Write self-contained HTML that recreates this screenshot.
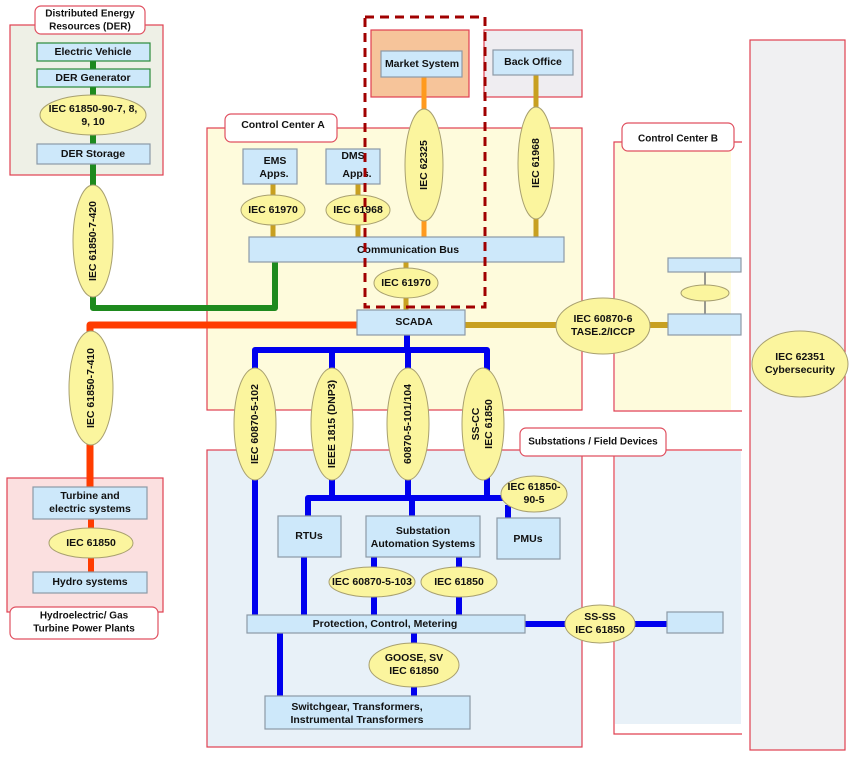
<!DOCTYPE html>
<html><head><meta charset="utf-8"><style>
body{margin:0;background:#fff}
svg text{font-family:"Liberation Sans",Arial,sans-serif;font-weight:bold;font-size:10.5px;fill:#111;text-anchor:middle;dominant-baseline:central}
.b{fill:#cde8fa;stroke:#8c9aa6;stroke-width:1.2}
.e{fill:#fbf59e;stroke:#a8a070;stroke-width:1}
.lb{fill:#fff;stroke:#e05060;stroke-width:1.2}
.rg{stroke:#e04050;stroke-width:1.2}
</style></head><body>
<svg width="853" height="754" viewBox="0 0 853 754" xmlns="http://www.w3.org/2000/svg">
<rect x="10" y="25" width="153" height="150" fill="#eef0e6" class="rg"/>
<rect x="7" y="478" width="156" height="134" fill="#fbe0e0" class="rg"/>
<rect x="207" y="128" width="375" height="282" fill="#fefbdc" class="rg"/>
<rect x="207" y="450" width="375" height="297" fill="#e8f1f8" class="rg"/>
<rect x="371" y="30" width="98" height="67" fill="#f6c49a" class="rg"/>
<rect x="484" y="30" width="98" height="67" fill="#efedf1" class="rg"/>
<path d="M742 142 H614 V411 H742" fill="none" class="rg"/>
<rect x="615" y="143" width="116" height="267" fill="#fefbdc"/>
<path d="M742 450 H614 V734 H742" fill="none" class="rg"/>
<rect x="615" y="451" width="126" height="273" fill="#e8f1f8"/>
<rect x="750" y="40" width="95" height="710" fill="#f0f0f2" class="rg"/>
<rect x="35" y="6" width="110" height="28" rx="6" class="lb"/>
<text x="90" y="14" style="font-size:10px">Distributed Energy</text>
<text x="90" y="27" style="font-size:10px">Resources (DER)</text>
<rect x="225" y="114" width="112" height="28" rx="6" class="lb"/>
<text x="283" y="125">Control Center A</text>
<rect x="622" y="123" width="112" height="28" rx="6" class="lb"/>
<text x="678" y="139" style="font-size:10px">Control Center B</text>
<rect x="520" y="428" width="146" height="28" rx="6" class="lb"/>
<text x="593" y="442" style="font-size:10px">Substations / Field Devices</text>
<rect x="10" y="607" width="148" height="32" rx="6" class="lb"/>
<text x="84" y="616" style="font-size:10px">Hydroelectric/ Gas</text>
<text x="84" y="629" style="font-size:10px">Turbine Power Plants</text>
<g fill="none" stroke-linejoin="round">
<path d="M93 61 V308 H275 V262" stroke="#1e8a1e" stroke-width="6"/>
<path d="M90 487 V325 H357" stroke="#ff3c00" stroke-width="7"/>
<path d="M91 519 V572" stroke="#ff3c00" stroke-width="6"/>
<path d="M424 77 V237" stroke="#ff9a1e" stroke-width="5"/>
<path d="M536 75 V237" stroke="#c8a020" stroke-width="5"/>
<path d="M273 184 V237 M358 184 V237 M406 262 V310" stroke="#c8a020" stroke-width="5"/>
<path d="M465 325 H668" stroke="#c8a020" stroke-width="6"/>
<path d="M705 272 V314" stroke="#777" stroke-width="1.5"/>
<g stroke="#0000ee" stroke-width="6">
<path d="M407 335 V350 M255 615 V350 H487 V400 M332 350 V400 M408 350 V400"/>
<path d="M308 516 V498 H530 M332 470 V498 M408 470 V498 M487 470 V498 M412 498 V516 M508 505 V518"/>
<path d="M304 557 V615 M374 557 V615 M459 557 V615"/>
<path d="M525 624 H668 M280 633 V696 M414 633 V696"/>
</g>
</g>
<rect x="37" y="43" width="113" height="18" class="b" style="stroke:#2a8a3a"/><text x="93" y="52">Electric Vehicle</text>
<rect x="37" y="69" width="113" height="18" class="b" style="stroke:#2a8a3a"/><text x="93" y="78">DER Generator</text>
<rect x="37" y="144" width="113" height="20" class="b"/><text x="93" y="154">DER Storage</text>
<rect x="33" y="487" width="114" height="32" class="b"/><text x="90" y="496">Turbine and</text><text x="90" y="509">electric systems</text>
<rect x="33" y="572" width="114" height="21" class="b"/><text x="90" y="582">Hydro systems</text>
<rect x="381" y="51" width="81" height="26" class="b"/><text x="422" y="64">Market System</text>
<rect x="493" y="50" width="80" height="25" class="b"/><text x="533" y="62">Back Office</text>
<rect x="243" y="149" width="54" height="35" class="b"/><text x="275" y="161">EMS</text><text x="274" y="174">Apps.</text>
<rect x="326" y="149" width="54" height="35" class="b"/><text x="353" y="156">DMS</text><text x="357" y="174">Apps.</text>
<rect x="249" y="237" width="315" height="25" class="b"/><text x="408" y="250">Communication Bus</text>
<rect x="357" y="310" width="108" height="25" class="b"/><text x="414" y="322">SCADA</text>
<rect x="668" y="258" width="73" height="14" class="b"/>
<rect x="668" y="314" width="73" height="21" class="b"/>
<rect x="278" y="516" width="63" height="41" class="b"/><text x="309" y="536">RTUs</text>
<rect x="366" y="516" width="114" height="41" class="b"/><text x="423" y="531">Substation</text><text x="423" y="544">Automation Systems</text>
<rect x="497" y="518" width="63" height="41" class="b"/><text x="528" y="539">PMUs</text>
<rect x="247" y="615" width="278" height="18" class="b"/><text x="385" y="624">Protection, Control, Metering</text>
<rect x="667" y="612" width="56" height="21" class="b"/>
<rect x="265" y="696" width="205" height="33" class="b"/><text x="357" y="707">Switchgear, Transformers,</text><text x="357" y="720">Instrumental Transformers</text>
<ellipse cx="93" cy="115" rx="53" ry="20" class="e"/><text x="93" y="109">IEC 61850-90-7, 8,</text><text x="93" y="122">9, 10</text>
<ellipse cx="93" cy="241" rx="20" ry="56" class="e"/><text transform="translate(93,241) rotate(-90)">IEC 61850-7-420</text>
<ellipse cx="91" cy="388" rx="22" ry="57" class="e"/><text transform="translate(91,388) rotate(-90)">IEC 61850-7-410</text>
<ellipse cx="91" cy="543" rx="42" ry="15" class="e"/><text x="91" y="543">IEC 61850</text>
<ellipse cx="273" cy="210" rx="32" ry="15" class="e"/><text x="273" y="210">IEC 61970</text>
<ellipse cx="358" cy="210" rx="32" ry="15" class="e"/><text x="358" y="210">IEC 61968</text>
<ellipse cx="406" cy="283" rx="32" ry="15" class="e"/><text x="406" y="283">IEC 61970</text>
<ellipse cx="424" cy="165" rx="19" ry="56" class="e"/><text transform="translate(424,165) rotate(-90)">IEC 62325</text>
<ellipse cx="536" cy="163" rx="18" ry="56" class="e"/><text transform="translate(536,163) rotate(-90)">IEC 61968</text>
<ellipse cx="603" cy="326" rx="47" ry="28" class="e"/><text x="603" y="319">IEC 60870-6</text><text x="603" y="332">TASE.2/ICCP</text>
<ellipse cx="705" cy="293" rx="24" ry="8" class="e"/>
<ellipse cx="800" cy="364" rx="48" ry="33" class="e"/><text x="800" y="357">IEC 62351</text><text x="800" y="370">Cybersecurity</text>
<ellipse cx="255" cy="424" rx="21" ry="56" class="e"/><text transform="translate(255,424) rotate(-90)">IEC 60870-5-102</text>
<ellipse cx="332" cy="424" rx="21" ry="56" class="e"/><text transform="translate(332,424) rotate(-90)">IEEE 1815 (DNP3)</text>
<ellipse cx="408" cy="424" rx="21" ry="56" class="e"/><text transform="translate(408,424) rotate(-90)">60870-5-101/104</text>
<ellipse cx="483" cy="424" rx="21" ry="56" class="e"/><text transform="translate(476,424) rotate(-90)">SS-CC</text><text transform="translate(489,424) rotate(-90)">IEC 61850</text>
<ellipse cx="534" cy="494" rx="33" ry="18" class="e"/><text x="534" y="487">IEC 61850-</text><text x="534" y="500">90-5</text>
<ellipse cx="372" cy="582" rx="43" ry="15" class="e"/><text x="372" y="582">IEC 60870-5-103</text>
<ellipse cx="459" cy="582" rx="38" ry="15" class="e"/><text x="459" y="582">IEC 61850</text>
<ellipse cx="600" cy="624" rx="35" ry="19" class="e"/><text x="600" y="617">SS-SS</text><text x="600" y="630">IEC 61850</text>
<ellipse cx="414" cy="665" rx="45" ry="22" class="e"/><text x="414" y="658">GOOSE, SV</text><text x="414" y="671">IEC 61850</text>
<rect x="365" y="17" width="120" height="290" fill="none" stroke="#a00000" stroke-width="3" stroke-dasharray="9,6"/>
</svg>
</body></html>
